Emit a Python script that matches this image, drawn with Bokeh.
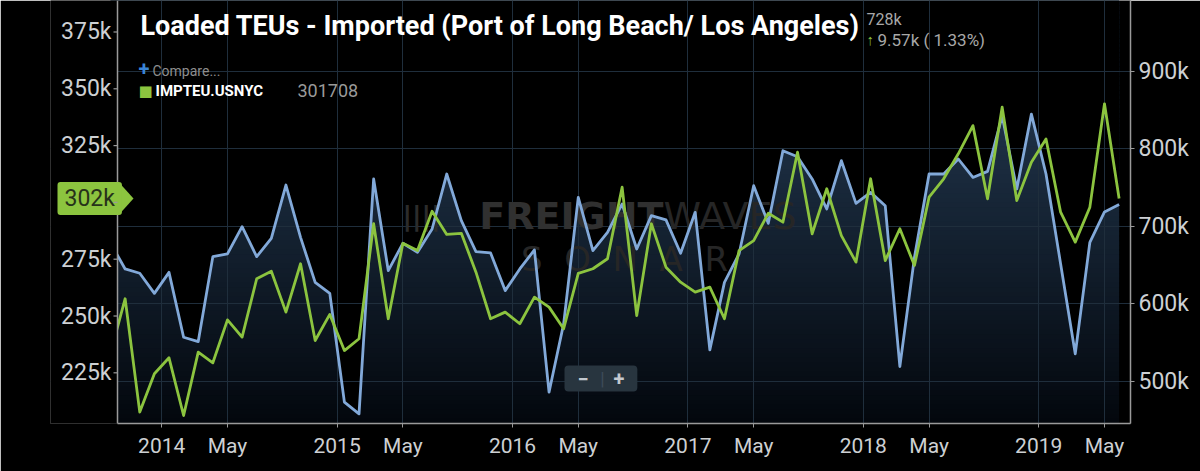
import numpy as np
import pandas as pd
from bokeh.plotting import figure
from bokeh.models import (Range1d, LinearAxis, FixedTicker, NumeralTickFormatter,
                          Grid, Label, PolyAnnotation, BoxAnnotation, Span)
from bokeh.embed import file_html
from bokeh.resources import INLINE

# ---------------- data (monthly, Sep 2013 .. Jun 2019) ----------------
months = pd.date_range("2013-09-01", "2019-06-01", freq="MS")

# Loaded TEUs imported, Port of Long Beach / Los Angeles (thousands, right axis)
la_lb_teu_k = [678.3, 645.0, 639.4, 613.5,
               640.6, 556.8, 551.2, 660.9, 664.4, 699.6, 660.9, 684.5, 753.4, 685.8, 627.7, 613.5,
               472.9, 457.9, 761.2, 642.8, 678.1, 666.5, 696.6, 767.6, 707.4, 667.4, 665.7, 617.0,
               645.0, 669.5, 485.8, 574.1, 737.4, 668.6, 692.3, 728.9, 670.8, 713.8, 708.3, 665.2,
               718.1, 540.5, 627.7, 664.4, 752.5, 703.9, 797.7, 790.0, 761.2, 722.5, 784.8, 729.7,
               743.9, 726.7, 519.0, 660.0, 767.6, 767.6, 787.0, 763.2, 771.0, 842.8, 748.3, 845.0,
               767.6, 651.5, 535.4, 679.4, 718.63, 728.2]

# IMPTEU.USNYC (thousands, left axis)
nyc_teu_k = [233.7, 257.6, 207.7, 224.6,
             231.6, 206.2, 234.1, 229.4, 248.3, 240.7, 266.4, 269.7, 251.7, 273.0, 239.2, 250.7,
             234.8, 240.0, 290.6, 248.8, 282.0, 278.8, 296.1, 285.9, 286.4, 269.3, 248.8, 251.7,
             246.6, 258.3, 253.9, 244.4, 268.8, 270.8, 275.2, 306.7, 250.2, 290.6, 271.5, 264.9,
             260.5, 262.7, 248.8, 278.8, 283.2, 295.2, 291.3, 322.1, 286.2, 306.0, 285.4, 273.7,
             310.4, 274.4, 288.4, 272.2, 302.3, 310.4, 321.4, 333.8, 301.6, 341.9, 300.8, 317.7,
             327.9, 295.7, 282.5, 297.9, 343.4, 301.708]

year_labels = [2014, 2015, 2016, 2017, 2018, 2019]
left_ticks_k = [225, 250, 275, 300, 325, 350, 375]
right_ticks_k = [500, 600, 700, 800, 900]

title_text = "Loaded TEUs - Imported (Port of Long Beach/ Los Angeles)"
series_code = "IMPTEU.USNYC"

# ---------------- derived ----------------
BLUE = "#82a9d9"
GREEN = "#8cc43f"
AXIS = "#9a9a9a"
LBL = "#cdd0d3"
la = np.array(la_lb_teu_k) * 1000.0
ny = np.array(nyc_teu_k) * 1000.0
idx = ((months.year - 2014) * 12 + months.month - 1).to_numpy()
left_ticks = [v * 1000 for v in left_ticks_k]
right_ticks = [v * 1000 for v in right_ticks_k]

x_ticks, x_over = [], {}
for yr in year_labels:
    t_year = 12 * (yr - 2014) - 0.5
    t_may = int(12 * (yr - 2014) + 4)
    x_ticks += [t_year, t_may]
    x_over[t_year] = str(yr)
    x_over[t_may] = "May"

# ---------------- figure ----------------
W, H = 1200, 471
FL_PX, AX_PX, FR_PX, FT_PX, FB_PX = 50, 117, 1130, 0, 423   # frame / left-axis pixel layout
xr = Range1d(-8.107, 65.78)
yr_g = Range1d(202690, 388860)
yr_b = Range1d(445360, 991730)

p = figure(width=W, height=H, x_range=xr, y_range=yr_g,
           output_backend="svg", toolbar_location=None,
           min_border_left=FL_PX, min_border_right=W - FR_PX, min_border_top=FT_PX,
           min_border_bottom=H - FB_PX,
           background_fill_color="black", border_fill_color="black",
           outline_line_color=None)
p.extra_y_ranges = {"la": yr_b}

XS, XE = xr.start, xr.end
def dx(px):
    return XS + (px - FL_PX) / (FR_PX - FL_PX) * (XE - XS)
def dy(py):
    return yr_g.end - (py - FT_PX) / (FB_PX - FT_PX) * (yr_g.end - yr_g.start)
x_axis_left = dx(AX_PX)

# gradient fill under the LA/LB line: background bands masked above the line
n_b = 90
edges = np.linspace(yr_b.start, yr_b.end, n_b + 1)
step = edges[1] - edges[0]
c_bot = np.array([3, 7, 13])
c_top = np.array([41, 66, 93])
frac = (np.arange(n_b) + 0.5) / n_b
band_cols = ["#%02x%02x%02x" % tuple(np.round(c_bot + (c_top - c_bot) * f).astype(int)) for f in frac]
p.quad(left=float(idx[0]), right=float(idx[-1]), bottom=edges[:-1], top=edges[:-1] + 1.8 * step,
       fill_color=band_cols, line_color=None, y_range_name="la", level="image")
p.varea(x=idx, y1=la, y2=yr_b.end, fill_color="black", y_range_name="la", level="image")

# grids
GRID = "#1f2e3c"
xt = FixedTicker(ticks=x_ticks)
p.xaxis.ticker = xt
p.xgrid.ticker = xt
p.xgrid.grid_line_color = GRID
p.ygrid.visible = False
p.add_layout(Grid(dimension=1, ticker=FixedTicker(ticks=right_ticks),
                  y_range_name="la", grid_line_color=GRID))

# lines
p.line(idx, la, y_range_name="la", line_color=BLUE, line_width=2.8, line_join="round")
p.line(idx, ny, line_color=GREEN, line_width=2.8, line_join="round")

# keep the strip left of the value axis empty
p.add_layout(BoxAnnotation(left=XS, right=x_axis_left, bottom=yr_g.start, top=yr_g.end,
                           fill_color="black", fill_alpha=1.0, line_color=None, level="glyph"))

# axes
raxis = LinearAxis(y_range_name="la")
p.add_layout(raxis, "right")
laxis = p.yaxis[0]
laxis.ticker = FixedTicker(ticks=left_ticks)
raxis.ticker = FixedTicker(ticks=right_ticks)
laxis.formatter = NumeralTickFormatter(format="0a")
raxis.formatter = NumeralTickFormatter(format="0a")
p.xaxis.major_label_overrides = x_over
p.xaxis.bounds = (x_axis_left, XE)

for ax in [p.xaxis[0], laxis, raxis]:
    ax.axis_line_color = AXIS
    ax.axis_line_width = 1.5
    ax.major_tick_line_color = AXIS
    ax.minor_tick_line_color = None
    ax.major_tick_in = 0
    ax.major_tick_out = 4
    ax.major_label_text_color = LBL
    ax.major_label_text_font = "Roboto"
    ax.major_label_text_font_size = "23px"
    ax.major_label_standoff = 4
p.xaxis.major_label_text_font_size = "21px"
p.xaxis.major_label_standoff = 6
# left value labels sit next to the axis line drawn at AX_PX
laxis.axis_line_color = None
laxis.major_tick_line_color = None
laxis.major_tick_out = 0
laxis.major_label_standoff = -(AX_PX - FL_PX) + 6
p.add_layout(Span(location=x_axis_left, dimension="height", line_color=AXIS,
                  line_width=1.5, level="guide"))
p.segment(x0=dx(AX_PX - 4), x1=x_axis_left, y0=left_ticks, y1=left_ticks,
          line_color=AXIS, line_width=1.2, level="overlay")

# ---------------- text overlays ----------------
def add_text(txt, px, py, size, color, style="normal", font="Roboto", align="left", level="annotation", **kw):
    lab = Label(x=dx(px), y=dy(py), text=txt, text_font=font, text_font_size=size,
                text_color=color, text_font_style=style, text_align=align,
                text_baseline="middle", level=level, **kw)
    p.add_layout(lab)
    return lab

NB = "\u00a0"
# watermark
add_text("||||", 440, 215, "26px", "#2c2c2c", "bold", font="DejaVu Sans", align="right", level="underlay")
add_text("FREIGHT", 663, 215, "38px", "#303030", "bold", font="DejaVu Sans", align="right", level="underlay")
add_text("WAVES", 663, 215, "38px", "#262626", font="DejaVu Sans", level="underlay")
add_text((NB * 2).join("SONAR"), 624, 258, "34px", "#262626", font="DejaVu Sans",
         align="center", level="underlay")

# title and header
add_text(title_text, 140, 25, "27px", "#ffffff", "bold")
last_la, prev_la = la_lb_teu_k[-1], la_lb_teu_k[-2]
chg = last_la - prev_la
add_text(f"{round(last_la)}k", 866, 19, "16px", "#a8a8a8")
add_text("↑", 866, 39, "15px", GREEN, "bold")
add_text(f"{chg:.2f}k ( {chg / prev_la * 100:.2f}%)", 877, 39, "17px", "#a8a8a8")

# compare + legend
add_text("+", 138, 68, "20px", "#3a85d5", "bold")
add_text("Compare...", 152, 70, "14px", "#8e8e8e")
add_text("■", 138, 90, "15px", GREEN, font="DejaVu Sans")
add_text(series_code, 155, 90, "15px", "#ffffff", "bold")
add_text(f"{round(nyc_teu_k[-1] * 1000)}", 297, 90, "18px", "#9a9a9a")

# current value flag on left axis
h_px = 15.5 * (yr_g.end - yr_g.start) / (FB_PX - FT_PX)
p.add_layout(PolyAnnotation(xs=[dx(119), dx(133), dx(119)],
                            ys=[ny[-1] + h_px, ny[-1], ny[-1] - h_px],
                            fill_color=GREEN, fill_alpha=1.0, line_color=None))
p.add_layout(Label(x=dx(57), y=ny[-1], text=f"{round(nyc_teu_k[-1])}k", text_font="Roboto",
                   text_font_size="23px", text_color="#27321a", text_align="left",
                   text_baseline="middle", background_fill_color=GREEN,
                   border_radius=3, padding=(7, 7, 3, 3)))

# zoom buttons
add_text("−" + NB * 5 + "+", 564, 378, "20px", "#c3c9cf", "bold",
         background_fill_color="#28353f", border_radius=4, padding=(13, 13, 1, 1))
add_text("|", 602, 378, "18px", "#3e4c59", align="center")

open("out.html", "w").write(file_html(p, INLINE))
